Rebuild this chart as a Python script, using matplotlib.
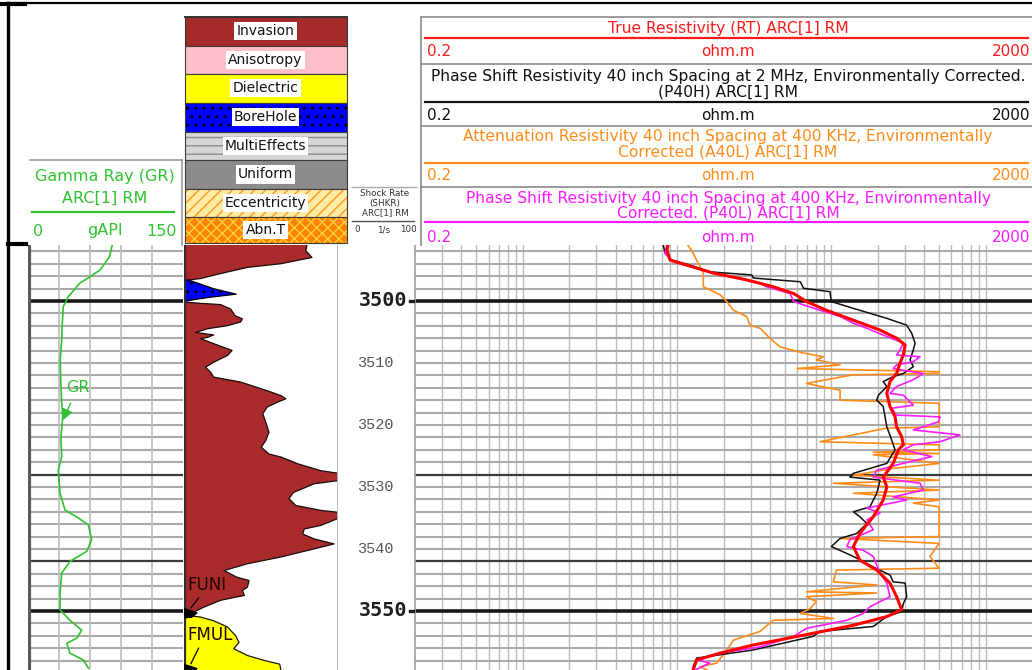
import numpy as np
import matplotlib
matplotlib.use("Agg")
import matplotlib.pyplot as plt
from matplotlib.patches import Rectangle, Polygon

plt.rcParams['font.family'] = ['DejaVu Sans']
plt.rcParams['hatch.linewidth'] = 1.0

# ---------------- log data ----------------
gr_depth = [3490.7, 3492.9, 3495.0, 3496.1, 3497.1, 3499.3, 3500.9, 3503.5, 3506.3, 3509.5,
            3512.7, 3515.8, 3518.7, 3522.0, 3525.1, 3527.3, 3531.0, 3533.7, 3535.0, 3536.1,
            3538.5, 3540.4, 3542.0, 3543.9, 3547.1, 3549.8, 3551.5, 3553.1, 3554.4, 3555.2,
            3556.8, 3557.9, 3559.2]
gr_api = [82, 78.7, 69.7, 60, 50.3, 39, 34.2, 33.2, 32.6, 31.2,
          31.6, 32.4, 33.6, 31.8, 32.6, 29.3, 31, 35.8, 48.7, 58.4,
          61.6, 56.8, 40.6, 32.6, 31, 31, 40.6, 52, 47.1, 37.5,
          40.6, 53.5, 58.4]

inv_depth = [3490.7, 3491.8, 3492.9, 3493.9, 3494.5, 3495.5, 3496.3, 3496.6, 3500.1, 3500.3,
             3500.5, 3501.2, 3502.3, 3502.8, 3503.3, 3503.9, 3504.4, 3505.0, 3505.4, 3505.8,
             3506.0, 3506.8, 3507.9, 3508.7, 3509.8, 3510.6, 3511.4, 3512.2, 3513.0, 3514.4,
             3515.2, 3515.7, 3516.2, 3517.0, 3518.1, 3519.5, 3521.1, 3522.4, 3523.5, 3524.6,
             3525.1, 3526.2, 3527.3, 3527.7, 3528.9, 3529.4, 3530.8, 3531.8, 3532.9, 3533.7,
             3534.0, 3535.0, 3536.1, 3536.7, 3537.5, 3538.3, 3539.1, 3539.9, 3541.2, 3542.3,
             3543.4, 3544.5, 3545.0, 3546.1, 3546.6, 3547.4, 3548.2, 3549.3, 3550.1, 3550.4]
inv_level = [0.80, 0.79, 0.83, 0.63, 0.41, 0.235, 0.105, 0.0, 0.0, 0.105,
             0.235, 0.30, 0.33, 0.377, 0.366, 0.28, 0.148, 0.072, 0.19, 0.148,
             0.105, 0.19, 0.31, 0.28, 0.19, 0.137, 0.17, 0.19, 0.366, 0.54,
             0.63, 0.66, 0.61, 0.54, 0.51, 0.53, 0.55, 0.53, 0.50, 0.55,
             0.63, 0.74, 0.89, 1.0, 1.0, 0.845, 0.71, 0.68, 0.725, 0.89,
             1.0, 1.0, 0.89, 0.78, 0.77, 0.845, 0.975, 0.845, 0.63, 0.41,
             0.257, 0.344, 0.42, 0.41, 0.377, 0.39, 0.235, 0.126, 0.06, 0.0]

bh_depth = [3496.6, 3496.7, 3498.0, 3498.9, 3499.4, 3499.8, 3500.1]
bh_level = [0.0, 0.04, 0.19, 0.34, 0.17, 0.06, 0.0]

diel_depth = [3550.6, 3550.9, 3551.5, 3552.5, 3553.9, 3555.0, 3556.0, 3557.1, 3557.9, 3558.5, 3559.6]
diel_level = [0.0, 0.105, 0.19, 0.28, 0.333, 0.355, 0.32, 0.41, 0.52, 0.62, 0.63]

flag_names = ["FUNI", "FMUL"]
flag_depths = [3550.4, 3559.4]
flag_label_depths = [3545.8, 3553.9]

rt_depth = [3490.7, 3491.8, 3493.4, 3494.2, 3495.5, 3496.6, 3497.7, 3498.8, 3500.1, 3501.5,
            3503.1, 3504.7, 3506.0, 3507.1, 3508.7, 3510.0, 3511.7, 3513.0, 3514.9, 3517.0,
            3518.7, 3520.3, 3521.9, 3523.2, 3524.0, 3526.2, 3528.4, 3530.0, 3532.1, 3534.8,
            3537.5, 3539.6, 3541.8, 3543.4, 3545.5, 3547.7, 3549.8, 3550.9, 3552.3, 3553.9,
            3555.5, 3556.8, 3557.9, 3559.5]
rt_ohmm = [8.8, 8.6, 9.0, 11.5, 17.2, 28.3, 42, 57, 69, 93,
           139, 207, 265, 301, 293, 279, 265, 240, 229, 240,
           259, 265, 286, 293, 272, 252, 217, 229, 217, 187,
           153, 139, 153, 197, 240, 265, 286, 229, 139, 66,
           31, 19, 13.4, 12.7]

p40h_depth = [3490.7, 3492.3, 3493.4, 3494.2, 3495.3, 3495.8, 3496.3, 3496.9, 3497.95, 3498.5,
              3500.1, 3501.5, 3502.8, 3503.9, 3505.2, 3506.8, 3507.9, 3509.5, 3510.6, 3511.7,
              3512.2, 3513.0, 3513.8, 3515.2, 3516.0, 3517.0, 3518.7, 3520.3, 3522.4, 3524.0,
              3526.2, 3527.8, 3528.4, 3528.9, 3531.0, 3533.2, 3534.0, 3534.8, 3535.9, 3537.5,
              3538.3, 3539.6, 3541.2, 3542.9, 3544.2, 3545.3, 3545.5, 3547.7, 3548.8, 3550.1,
              3550.9, 3552.5, 3553.3, 3554.1, 3556.3, 3557.6, 3559.0]
p40h_ohmm = [8.1, 8.35, 9.2, 12.1, 16.3, 30.5, 31.2, 63, 66, 98,
             100, 153, 229, 308, 332, 349, 340, 324, 340, 293,
             252, 217, 229, 202, 197, 217, 223, 229, 246, 259,
             229, 139, 132, 207, 197, 178, 139, 153, 170, 146,
             114, 100, 139, 187, 240, 252, 301, 308, 293, 286,
             229, 187, 84.5, 76, 31, 13.4, 12.7]

a40l_depth = [3490.7, 3491.8, 3494.5, 3495.5, 3497.7, 3499.0, 3500.1, 3501.5, 3502.5, 3503.9,
              3504.4, 3506.0, 3507.4, 3508.4, 3509.0, 3509.5, 3510.3, 3510.9, 3511.4, 3511.7,
              3511.9, 3513.3, 3514.4, 3516.0, 3516.5, 3520.3, 3520.5, 3522.7, 3523.2, 3524.0,
              3524.4, 3524.6, 3524.8, 3526.2, 3527.0, 3528.1, 3528.9, 3529.4, 3530.5, 3531.0,
              3532.1, 3532.6, 3533.2, 3538.0, 3538.3, 3539.1, 3541.2, 3543.1, 3543.4, 3545.3,
              3545.8, 3546.9, 3547.1, 3547.7, 3548.5, 3549.6, 3550.4, 3551.2, 3551.5, 3553.3,
              3554.7, 3556.3, 3558.4, 3559.0, 3559.5]
a40l_ohmm = [11.5, 12.4, 14.1, 14.8, 14.8, 19, 21, 23.2, 28.3, 29.7,
             34.5, 40, 46.5, 66, 89, 80, 114, 60, 500, 500,
             139, 69, 114, 114, 500, 500, 229, 84.5, 500, 500,
             187, 500, 187, 500, 252, 139, 500, 103, 500, 139,
             500, 340, 500, 500, 114, 500, 436, 500, 108, 103,
             197, 69, 197, 69, 80, 73, 63, 103, 42, 34.5,
             23.2, 21, 18.1, 14.1, 15.6]

p40l_depth = [3490.7, 3492.3, 3493.7, 3495.5, 3497.1, 3497.7, 3498.8, 3500.1, 3501.5, 3502.5,
              3503.6, 3504.4, 3505.5, 3506.8, 3507.9, 3508.7, 3509.0, 3509.8, 3510.3, 3510.9,
              3511.7, 3512.7, 3513.8, 3514.9, 3515.2, 3516.8, 3517.3, 3518.4, 3518.7, 3519.5,
              3520.8, 3521.6, 3522.7, 3523.2, 3524.0, 3525.1, 3525.9, 3527.3, 3528.4, 3529.4,
              3530.5, 3531.6, 3532.1, 3533.4, 3534.2, 3535.3, 3536.9, 3538.5, 3539.6, 3540.2,
              3541.2, 3543.9, 3545.5, 3547.7, 3549.3, 3550.4, 3551.5, 3552.8, 3554.1, 3555.8,
              3556.8, 3557.9, 3558.4, 3559.5]
p40l_ohmm = [8.6, 8.35, 9.5, 17.2, 34.5, 38, 54, 57, 84.5, 114,
             139, 170, 217, 293, 279, 265, 376, 340, 265, 252,
             395, 340, 265, 240, 293, 340, 246, 265, 507, 494,
             340, 682, 507, 340, 293, 448, 324, 197, 187, 376,
             395, 252, 308, 170, 207, 170, 187, 132, 126, 161,
             187, 207, 229, 240, 178, 161, 126, 69, 57, 34.5,
             19, 13.4, 16.3, 13.1]

depth_labels = [3500, 3510, 3520, 3530, 3540, 3550]
bold_depths = [3500, 3550]
zone_depths = [3528, 3542]

legend_names = ["Invasion", "Anisotropy", "Dielectric", "BoreHole",
                "MultiEffects", "Uniform", "Eccentricity", "Abn.T"]

# ---------------- styling ----------------
GREEN = '#2fc42f'
BROWN = '#a82a2a'
RED = '#ff1a1a'
ORANGE = '#ff8c1a'
MAGENTA = '#ff1aff'
GRID_H = '#a9a9a9'
GRID_V = '#bcbcbc'

legend_style = [
    ('#a52a2a', None, None),
    ('#ffbfca', None, None),
    ('#ffff00', None, None),
    ('#0000ff', '..', '#000000'),
    ('#d6d6d6', '--', '#8a8a8a'),
    ('#8c8c8c', None, None),
    ('#ffeaa6', '///', '#ff9a1a'),
    ('#ff8400', 'xxx', '#ffd23c'),
]

W, H = 1032, 670
fig = plt.figure(figsize=(W / 100, H / 100), dpi=100)
fig.patch.set_facecolor('white')

TOP_DEPTH, BOT_DEPTH = 3490.97, 3559.52


def track(x0, y0, x1, y1):
    ax = fig.add_axes([x0 / W, 1 - y1 / H, (x1 - x0) / W, (y1 - y0) / H])
    ax.set_ylim(BOT_DEPTH, TOP_DEPTH)
    ax.set_xticks([])
    ax.set_yticks([])
    for s in ax.spines.values():
        s.set_visible(False)
    return ax


def depth_grid(ax):
    for d in range(3492, 3560, 2):
        ax.axhline(d, color=GRID_H, lw=1.5, zorder=1)
    for d in zone_depths:
        ax.axhline(d, color='#3c3c3c', lw=1.6, zorder=1.5)
    for d in bold_depths:
        ax.axhline(d, color='#1a1a1a', lw=2.6, zorder=1.6)


# ---- gamma ray track ----
ax_gr = track(28, 245, 183, 670)
ax_gr.set_xlim(0, 150)
depth_grid(ax_gr)
for g in (30, 60, 90, 120):
    ax_gr.axvline(g, color=GRID_V, lw=1.2, zorder=1)
ax_gr.axvline(0.8, color='#5a5a5a', lw=3.0, zorder=2)
ax_gr.plot(gr_api, gr_depth, color=GREEN, lw=1.2, zorder=3)
ax_gr.annotate('GR', xy=(33.9, 3519.2), xytext=(48, 3514.0), color=GREEN,
               fontsize=11.5, ha='center', va='center', zorder=4,
               arrowprops=dict(arrowstyle='-|>', color=GREEN, lw=1.0,
                               mutation_scale=16, shrinkA=4, shrinkB=0))

# ---- invasion / flag track ----
ax_inv = track(184, 245, 337.5, 670)
ax_inv.set_xlim(0, 1)
ax_inv.fill_betweenx(inv_depth, 0, inv_level, facecolor=BROWN, edgecolor='#1a0a0a',
                     lw=0.9, zorder=2)
ax_inv.fill_betweenx(bh_depth, 0, bh_level, facecolor='#0000ff', edgecolor='#000000',
                     hatch='..', lw=0.9, zorder=2)
ax_inv.fill_betweenx(diel_depth, 0, diel_level, facecolor='#ffff00', edgecolor='#1a1a00',
                     lw=0.9, zorder=2)
ax_inv.axvline(0.004, color='#303030', lw=1.6, zorder=3)
ax_inv.axvline(1.0, color='#b5b5b5', lw=1.3, zorder=3)
for name, d, dl in zip(flag_names, flag_depths, flag_label_depths):
    ax_inv.add_patch(Polygon([(0, d - 0.8), (0.085, d - 0.1), (0.05, d + 0.6), (0, d + 0.7)],
                             closed=True, facecolor='black', edgecolor='black', zorder=4,
                             clip_on=True))
    ax_inv.text(0.02, dl, name, fontsize=12, color='#200000', ha='left', va='center', zorder=5)
    ax_inv.plot([0.095, 0.045], [dl + 2.1, d - 0.9], color='black', lw=0.9, zorder=5)

# ---- depth track ----
ax_dep = track(338, 245, 415, 670)
ax_dep.set_xlim(0, 1)
ax_dep.axvline(1.0, color='#a0a0a0', lw=1.2)
for d in depth_labels:
    if d in bold_depths:
        ax_dep.text(0.58, d, str(d), fontsize=14.5, fontweight='bold', family='DejaVu Sans Mono',
                    color='#1e1e1e', ha='center', va='center')
        ax_dep.plot([0.94, 1.0], [d, d], color='#1a1a1a', lw=2.4)
    else:
        ax_dep.text(0.48, d, str(d), fontsize=11, family='Liberation Mono',
                    color='#555555', ha='center', va='center')

# ---- resistivity track ----
ax_res = track(415, 245, 1032, 670)
ax_res.set_xscale('log')
ax_res.set_xlim(0.2, 2000)
ax_res.set_xticks([])
ax_res.minorticks_off()
for e in range(-1, 4):
    for k in range(1, 10):
        v = k * 10.0 ** e
        if 0.2 < v < 2000:
            ax_res.axvline(v, color=GRID_V, lw=1.0, zorder=1)
depth_grid(ax_res)
ax_res.axvline(0.2, color='#a0a0a0', lw=1.2)
ax_res.plot(a40l_ohmm, a40l_depth, color=ORANGE, lw=1.2, zorder=3)
ax_res.plot(p40h_ohmm, p40h_depth, color='#111111', lw=1.1, zorder=4)
ax_res.plot(p40l_ohmm, p40l_depth, color=MAGENTA, lw=1.2, zorder=5)
ax_res.plot(rt_ohmm, rt_depth, color='#ff0000', lw=2.2, zorder=6)

# ---------------- headers and frame ----------------
ov = fig.add_axes([0, 0, 1, 1], zorder=10)
ov.set_xlim(0, W)
ov.set_ylim(H, 0)
ov.axis('off')
ov.patch.set_alpha(0)

# page frame
ov.plot([8, W], [3, 3], color='black', lw=1.6)
ov.plot([0, 25], [4, 4], color='black', lw=3)
ov.plot([8, 8], [3, H], color='black', lw=2.4)
ov.plot([8, 26], [243.5, 243.5], color='black', lw=3)

# gamma ray header
ov.plot([30, 182], [160, 160], color='#9a9a9a', lw=1.2)
ov.plot([182, 182], [160, 245], color='#9a9a9a', lw=1.2)
ov.text(105, 176, 'Gamma Ray (GR)', fontsize=11.5, color=GREEN, ha='center', va='center')
ov.text(105, 198, 'ARC[1] RM', fontsize=11.5, color=GREEN, ha='center', va='center')
ov.plot([32, 174], [212, 212], color=GREEN, lw=1.6)
ov.text(33, 231, '0', fontsize=11.5, color=GREEN, ha='left', va='center')
ov.text(105, 231, 'gAPI', fontsize=11.5, color=GREEN, ha='center', va='center')
ov.text(177, 231, '150', fontsize=11.5, color=GREEN, ha='right', va='center')

# flag legend column
edges = [16.7, 46, 74, 102.7, 131.7, 160, 189, 217.3, 243.3]
for i, name in enumerate(legend_names):
    fc, hatch, hc = legend_style[i]
    y0, y1 = edges[i], edges[i + 1]
    ov.add_patch(Rectangle((185, y0), 161.5, y1 - y0, facecolor=fc,
                           edgecolor=hc if hc else fc, hatch=hatch, lw=0))
    ov.add_patch(Rectangle((185, y0), 161.5, y1 - y0, fill=False,
                           edgecolor='#3a3a3a', lw=0.8))
    ov.text(265.5, (y0 + y1) / 2, name, fontsize=10, color='#111111', ha='center',
            va='center', bbox=dict(boxstyle='square,pad=0.15', facecolor='white',
                                   edgecolor='none'))
ov.plot([185, 346.5], [16.7, 16.7], color='#333333', lw=1.4)

# shock rate header
ov.plot([352, 416], [187, 187], color='#aaaaaa', lw=1.0)
for yy, s in ((194, 'Shock Rate'), (203.5, '(SHKR)'), (212.5, 'ARC[1] RM')):
    ov.text(385, yy, s, fontsize=6.3, color='#333333', ha='center', va='center')
ov.plot([352, 414], [221, 221], color='#555555', lw=1.0)
ov.text(354, 230, '0', fontsize=6.3, color='#333333', ha='left', va='center')
ov.text(384, 230, '1/s', fontsize=6.3, color='#333333', ha='center', va='center')
ov.text(417, 230, '100', fontsize=6.3, color='#333333', ha='right', va='center')

# resistivity headers
ov.plot([421, W], [17, 17], color='#8a8a8a', lw=1.2)
ov.plot([421, 421], [17, 245], color='#8a8a8a', lw=1.2)
for yy in (64, 126, 187):
    ov.plot([421, W], [yy, yy], color='#8a8a8a', lw=1.2)

CX = 728
res_headers = [
    (RED, ['True Resistivity (RT) ARC[1] RM'], [28], 38, 52),
    ('#111111', ['Phase Shift Resistivity 40 inch Spacing at 2 MHz, Environmentally Corrected.',
                 '(P40H) ARC[1] RM'], [76, 92], 102, 116),
    (ORANGE, ['Attenuation Resistivity 40 inch Spacing at 400 KHz, Environmentally',
              'Corrected (A40L) ARC[1] RM'], [137, 152], 163, 176),
    (MAGENTA, ['Phase Shift Resistivity 40 inch Spacing at 400 KHz, Environmentally',
               'Corrected. (P40L) ARC[1] RM'], [198, 213], 222, 237),
]
for color, lines, ys, yline, yscale in res_headers:
    for s, yy in zip(lines, ys):
        ov.text(CX, yy, s, fontsize=11.2, color=color, ha='center', va='center')
    ov.plot([425, 1028], [yline, yline], color=color, lw=1.6)
    ov.text(427, yscale, '0.2', fontsize=11, color=color, ha='left', va='center')
    ov.text(CX, yscale, 'ohm.m', fontsize=11, color=color, ha='center', va='center')
    ov.text(1030, yscale, '2000', fontsize=11, color=color, ha='right', va='center')

fig.savefig('out.png', dpi=100, facecolor='white')
